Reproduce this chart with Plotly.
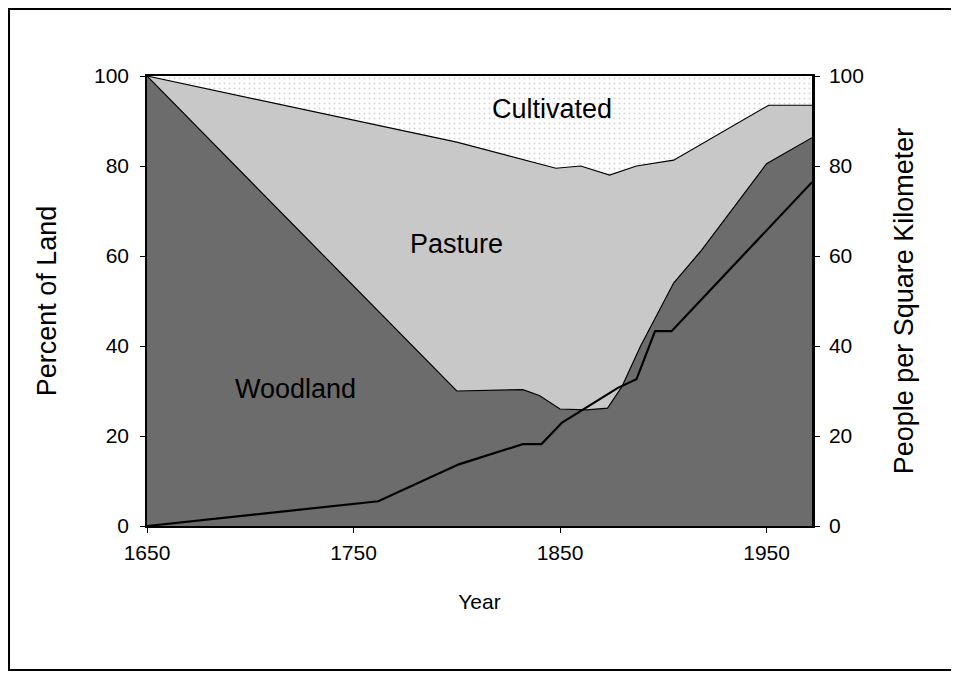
import plotly.graph_objects as go

# woodland share (top of dark area), percent of land
wood_years = [1650, 1800, 1832, 1840, 1850, 1863, 1873, 1880, 1889, 1897, 1905, 1918, 1950, 1972]
wood_pct = [100, 30, 30.3, 29, 26, 25.8, 26.2, 31, 40, 47, 54, 61, 80.5, 86.3]

# woodland + pasture (top of pasture area)
past_years = [1650, 1800, 1848, 1860, 1874, 1887, 1905, 1951, 1972]
past_pct = [100, 85.3, 79.5, 80, 78, 80, 81.3, 93.5, 93.5]

# cultivated fills up to all land
total_pct = [100 for _ in past_years]

# population density, right axis
pop_years = [1650, 1762, 1801, 1832, 1841, 1851, 1878, 1887, 1896, 1904, 1972]
pop_density = [0, 5.5, 13.7, 18.2, 18.2, 23, 30.7, 32.6, 43.3, 43.3, 76.4]

x_ticks = [1650, 1750, 1850, 1950]
y_ticks = [0, 20, 40, 60, 80, 100]

FONT = "Liberation Sans, Arial, sans-serif"

fig = go.Figure()

fig.add_trace(go.Scatter(x=past_years, y=total_pct, fill="tozeroy", mode="none",
                         fillcolor="#f7f7f7",
                         fillpattern=dict(shape=".", fgcolor="#a8a8a8", bgcolor="white",
                                          size=5, solidity=0.12),
                         name="Cultivated", hoverinfo="skip"))
fig.add_trace(go.Scatter(x=past_years, y=past_pct, fill="tozeroy", mode="lines",
                         line=dict(color="black", width=1.2),
                         fillcolor="#c8c8c8", name="Pasture"))
fig.add_trace(go.Scatter(x=wood_years, y=wood_pct, fill="tozeroy", mode="lines",
                         line=dict(color="black", width=1.2),
                         fillcolor="#6c6c6c", name="Woodland"))
fig.add_trace(go.Scatter(x=pop_years, y=pop_density, mode="lines", yaxis="y2",
                         line=dict(color="black", width=2.2),
                         name="Population"))

# area labels
fig.add_annotation(x=1846, y=92.7, text="Cultivated", showarrow=False,
                   font=dict(size=27, color="black", family=FONT))
fig.add_annotation(x=1800, y=62.7, text="Pasture", showarrow=False,
                   font=dict(size=27, color="black", family=FONT))
fig.add_annotation(x=1722, y=30.4, text="Woodland", showarrow=False,
                   font=dict(size=27, color="black", family=FONT))

# frame around the whole picture
fig.add_shape(type="rect", xref="paper", yref="paper",
              x0=-0.2075, x1=1.215, y0=-0.32, y1=1.149,
              line=dict(color="black", width=2))

fig.update_layout(
    width=959, height=673,
    margin=dict(l=139, r=155, t=68, b=155),
    paper_bgcolor="white",
    plot_bgcolor="white",
    showlegend=False,
    font=dict(family=FONT, color="black", size=21),
    xaxis=dict(
        range=[1650, 1972],
        tickvals=x_ticks,
        ticks="outside", ticklen=5, tickcolor="black",
        showline=True, linecolor="black", linewidth=1.5, mirror=True,
        showgrid=False, zeroline=False,
        tickfont=dict(size=21),
        ticklabelstandoff=2,
        title=dict(text="Year", font=dict(size=21), standoff=31),
    ),
    yaxis=dict(
        range=[0, 100],
        tickvals=y_ticks,
        ticks="outside", ticklen=5, tickcolor="black",
        showline=True, linecolor="black", linewidth=1.5,
        showgrid=False, zeroline=False,
        tickfont=dict(size=21),
        ticklabelstandoff=7,
        title=dict(text="Percent of Land", font=dict(size=27), standoff=30),
    ),
    yaxis2=dict(
        range=[0, 100],
        tickvals=y_ticks,
        overlaying="y", side="right",
        ticks="outside", ticklen=5, tickcolor="black",
        showline=True, linecolor="black", linewidth=2.5,
        showgrid=False, zeroline=False,
        tickfont=dict(size=21),
        ticklabelstandoff=5,
        title=dict(text="People per Square Kilometer", font=dict(size=27), standoff=32),
    ),
)

fig.write_html("out.html")
